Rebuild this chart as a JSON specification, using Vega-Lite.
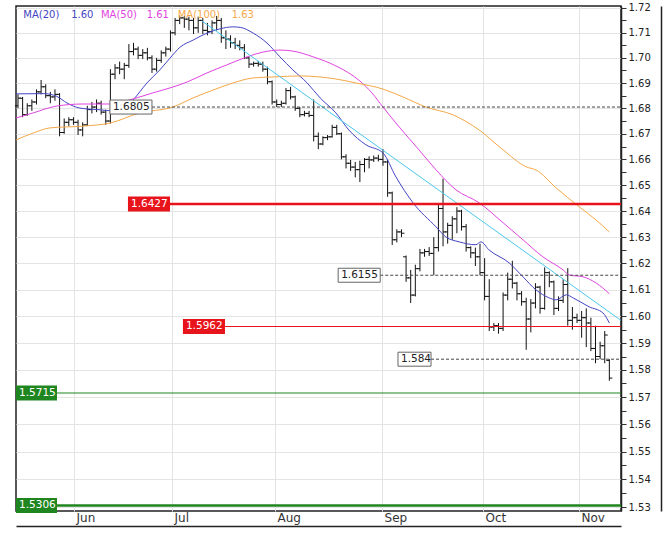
{
"$schema": "https://vega.github.io/schema/vega-lite/v6.json",
"width": 605, "height": 505,
"autosize": {"type": "none"},
"padding": {"left": 16, "top": 6, "right": 51, "bottom": 23},
"background": "white",
"config": {"font": "DejaVu Sans", "view": {"stroke": "#222", "strokeWidth": 1.5}},
"datasets": {
"bars": [
{"i":0,"o":1.681,"h":1.6855,"l":1.68,"c":1.684},
{"i":1,"o":1.684,"h":1.6845,"l":1.6765,"c":1.6775},
{"i":2,"o":1.6775,"h":1.682,"l":1.677,"c":1.681},
{"i":3,"o":1.681,"h":1.6835,"l":1.679,"c":1.6825},
{"i":4,"o":1.6825,"h":1.6875,"l":1.6815,"c":1.6865},
{"i":5,"o":1.6865,"h":1.6912,"l":1.6855,"c":1.6885},
{"i":6,"o":1.6885,"h":1.6895,"l":1.684,"c":1.685},
{"i":7,"o":1.685,"h":1.6865,"l":1.682,"c":1.6845},
{"i":8,"o":1.6845,"h":1.6875,"l":1.683,"c":1.6855},
{"i":9,"o":1.6855,"h":1.686,"l":1.669,"c":1.6705},
{"i":10,"o":1.6705,"h":1.676,"l":1.67,"c":1.6745},
{"i":11,"o":1.6745,"h":1.6765,"l":1.673,"c":1.6755},
{"i":12,"o":1.6755,"h":1.6765,"l":1.6735,"c":1.6745},
{"i":13,"o":1.6745,"h":1.6755,"l":1.6695,"c":1.6715},
{"i":14,"o":1.6715,"h":1.6745,"l":1.669,"c":1.6735},
{"i":15,"o":1.6735,"h":1.681,"l":1.673,"c":1.6795},
{"i":16,"o":1.6795,"h":1.6825,"l":1.678,"c":1.6805},
{"i":17,"o":1.6805,"h":1.6835,"l":1.6785,"c":1.682},
{"i":18,"o":1.682,"h":1.683,"l":1.6775,"c":1.6785},
{"i":19,"o":1.6785,"h":1.6795,"l":1.6735,"c":1.675},
{"i":20,"o":1.675,"h":1.6955,"l":1.674,"c":1.6935},
{"i":21,"o":1.6935,"h":1.6975,"l":1.6915,"c":1.696},
{"i":22,"o":1.696,"h":1.6985,"l":1.6935,"c":1.6955},
{"i":23,"o":1.6955,"h":1.698,"l":1.6915,"c":1.697},
{"i":24,"o":1.697,"h":1.7055,"l":1.696,"c":1.7025},
{"i":25,"o":1.7025,"h":1.706,"l":1.701,"c":1.7035},
{"i":26,"o":1.7035,"h":1.7045,"l":1.6995,"c":1.701},
{"i":27,"o":1.701,"h":1.7035,"l":1.6995,"c":1.702},
{"i":28,"o":1.702,"h":1.704,"l":1.699,"c":1.7},
{"i":29,"o":1.7,"h":1.701,"l":1.694,"c":1.6955},
{"i":30,"o":1.6955,"h":1.7,"l":1.6945,"c":1.699},
{"i":31,"o":1.699,"h":1.703,"l":1.698,"c":1.702},
{"i":32,"o":1.702,"h":1.7045,"l":1.7005,"c":1.7035},
{"i":33,"o":1.7035,"h":1.711,"l":1.7025,"c":1.71},
{"i":34,"o":1.71,"h":1.716,"l":1.709,"c":1.715},
{"i":35,"o":1.715,"h":1.717,"l":1.7135,"c":1.716},
{"i":36,"o":1.716,"h":1.7168,"l":1.712,"c":1.7155},
{"i":37,"o":1.7155,"h":1.7165,"l":1.711,"c":1.715},
{"i":38,"o":1.715,"h":1.716,"l":1.7095,"c":1.712},
{"i":39,"o":1.712,"h":1.7165,"l":1.71,"c":1.715},
{"i":40,"o":1.715,"h":1.716,"l":1.7095,"c":1.711},
{"i":41,"o":1.711,"h":1.714,"l":1.709,"c":1.7105},
{"i":42,"o":1.7105,"h":1.715,"l":1.7095,"c":1.714},
{"i":43,"o":1.714,"h":1.7168,"l":1.711,"c":1.715},
{"i":44,"o":1.715,"h":1.716,"l":1.706,"c":1.708},
{"i":45,"o":1.708,"h":1.711,"l":1.7035,"c":1.7075},
{"i":46,"o":1.7075,"h":1.709,"l":1.704,"c":1.706},
{"i":47,"o":1.706,"h":1.708,"l":1.7035,"c":1.705},
{"i":48,"o":1.705,"h":1.707,"l":1.703,"c":1.704},
{"i":49,"o":1.704,"h":1.7055,"l":1.6995,"c":1.7},
{"i":50,"o":1.7,"h":1.7005,"l":1.696,"c":1.6975},
{"i":51,"o":1.6975,"h":1.6985,"l":1.6965,"c":1.6978},
{"i":52,"o":1.6978,"h":1.6988,"l":1.6965,"c":1.6975},
{"i":53,"o":1.6975,"h":1.6985,"l":1.6945,"c":1.6955},
{"i":54,"o":1.6955,"h":1.6965,"l":1.6895,"c":1.6905},
{"i":55,"o":1.6905,"h":1.691,"l":1.6815,"c":1.6825},
{"i":56,"o":1.6825,"h":1.6835,"l":1.6805,"c":1.6815},
{"i":57,"o":1.6815,"h":1.683,"l":1.6805,"c":1.682},
{"i":58,"o":1.682,"h":1.688,"l":1.6815,"c":1.687},
{"i":59,"o":1.687,"h":1.6885,"l":1.6835,"c":1.6845},
{"i":60,"o":1.6845,"h":1.685,"l":1.679,"c":1.68},
{"i":61,"o":1.68,"h":1.6805,"l":1.6765,"c":1.6775},
{"i":62,"o":1.6775,"h":1.679,"l":1.6768,"c":1.678},
{"i":63,"o":1.678,"h":1.679,"l":1.6765,"c":1.6772},
{"i":64,"o":1.6772,"h":1.6835,"l":1.667,"c":1.669},
{"i":65,"o":1.669,"h":1.6705,"l":1.664,"c":1.666},
{"i":66,"o":1.666,"h":1.669,"l":1.6655,"c":1.6685},
{"i":67,"o":1.6685,"h":1.6695,"l":1.6675,"c":1.6688},
{"i":68,"o":1.6688,"h":1.6735,"l":1.6685,"c":1.6725},
{"i":69,"o":1.6725,"h":1.6735,"l":1.6695,"c":1.67},
{"i":70,"o":1.67,"h":1.6705,"l":1.66,"c":1.661},
{"i":71,"o":1.661,"h":1.662,"l":1.6565,"c":1.6585},
{"i":72,"o":1.6585,"h":1.6598,"l":1.6555,"c":1.657},
{"i":73,"o":1.657,"h":1.659,"l":1.653,"c":1.656},
{"i":74,"o":1.656,"h":1.6595,"l":1.6512,"c":1.658},
{"i":75,"o":1.658,"h":1.6605,"l":1.655,"c":1.66},
{"i":76,"o":1.66,"h":1.6612,"l":1.6565,"c":1.6598},
{"i":77,"o":1.6598,"h":1.6615,"l":1.659,"c":1.6605},
{"i":78,"o":1.6605,"h":1.6618,"l":1.6592,"c":1.66},
{"i":79,"o":1.66,"h":1.664,"l":1.6575,"c":1.659},
{"i":80,"o":1.659,"h":1.6598,"l":1.6455,"c":1.647},
{"i":81,"o":1.647,"h":1.6475,"l":1.627,"c":1.629},
{"i":82,"o":1.629,"h":1.633,"l":1.628,"c":1.632},
{"i":83,"o":1.632,"h":1.633,"l":1.63,"c":1.6315},
{"i":84,"o":1.6225,"h":1.623,"l":1.613,"c":1.6145},
{"i":85,"o":1.6145,"h":1.6175,"l":1.605,"c":1.608},
{"i":86,"o":1.608,"h":1.6195,"l":1.6075,"c":1.618},
{"i":87,"o":1.618,"h":1.6255,"l":1.617,"c":1.624},
{"i":88,"o":1.624,"h":1.6255,"l":1.6225,"c":1.6245},
{"i":89,"o":1.6245,"h":1.6262,"l":1.6228,"c":1.6238},
{"i":90,"o":1.6238,"h":1.63,"l":1.6155,"c":1.626},
{"i":91,"o":1.626,"h":1.643,"l":1.6245,"c":1.641},
{"i":92,"o":1.641,"h":1.6525,"l":1.6265,"c":1.632},
{"i":93,"o":1.632,"h":1.6355,"l":1.6275,"c":1.6345},
{"i":94,"o":1.6345,"h":1.638,"l":1.629,"c":1.637},
{"i":95,"o":1.637,"h":1.6415,"l":1.6315,"c":1.64},
{"i":96,"o":1.64,"h":1.6405,"l":1.6325,"c":1.634},
{"i":97,"o":1.634,"h":1.635,"l":1.6245,"c":1.626},
{"i":98,"o":1.626,"h":1.6265,"l":1.622,"c":1.624},
{"i":99,"o":1.624,"h":1.626,"l":1.619,"c":1.6225},
{"i":100,"o":1.6225,"h":1.6275,"l":1.6155,"c":1.6165},
{"i":101,"o":1.6165,"h":1.622,"l":1.606,"c":1.6075},
{"i":102,"o":1.6075,"h":1.614,"l":1.5945,"c":1.596},
{"i":103,"o":1.596,"h":1.5975,"l":1.5945,"c":1.5965},
{"i":104,"o":1.5965,"h":1.5975,"l":1.5935,"c":1.5955},
{"i":105,"o":1.5955,"h":1.609,"l":1.5945,"c":1.608},
{"i":106,"o":1.608,"h":1.6165,"l":1.606,"c":1.614},
{"i":107,"o":1.614,"h":1.621,"l":1.6105,"c":1.6125},
{"i":108,"o":1.6125,"h":1.613,"l":1.606,"c":1.6085},
{"i":109,"o":1.6085,"h":1.6095,"l":1.604,"c":1.6055},
{"i":110,"o":1.6055,"h":1.607,"l":1.5875,"c":1.599},
{"i":111,"o":1.599,"h":1.6065,"l":1.594,"c":1.605},
{"i":112,"o":1.605,"h":1.6125,"l":1.603,"c":1.611},
{"i":113,"o":1.611,"h":1.6115,"l":1.601,"c":1.603},
{"i":114,"o":1.603,"h":1.6185,"l":1.6025,"c":1.6165},
{"i":115,"o":1.6165,"h":1.617,"l":1.611,"c":1.613},
{"i":116,"o":1.613,"h":1.6135,"l":1.6005,"c":1.603},
{"i":117,"o":1.603,"h":1.6075,"l":1.602,"c":1.606},
{"i":118,"o":1.606,"h":1.614,"l":1.605,"c":1.612},
{"i":119,"o":1.612,"h":1.6182,"l":1.5965,"c":1.5985},
{"i":120,"o":1.5985,"h":1.6035,"l":1.595,"c":1.5995},
{"i":121,"o":1.5995,"h":1.601,"l":1.5975,"c":1.5985},
{"i":122,"o":1.5985,"h":1.602,"l":1.592,"c":1.5995},
{"i":123,"o":1.5995,"h":1.603,"l":1.5885,"c":1.5975},
{"i":124,"o":1.5975,"h":1.5995,"l":1.587,"c":1.588},
{"i":125,"o":1.588,"h":1.5965,"l":1.5825,"c":1.585},
{"i":126,"o":1.585,"h":1.5905,"l":1.584,"c":1.589},
{"i":127,"o":1.589,"h":1.5945,"l":1.5825,"c":1.593},
{"i":128,"o":1.5835,"h":1.584,"l":1.576,"c":1.577}
],
"ma": [
{"s":"MA(20)","i":-0.4,"p":1.6857},{"s":"MA(20)","i":5.6,"p":1.6858},{"s":"MA(20)","i":8.4,"p":1.6847},{"s":"MA(20)","i":10.6,"p":1.6821},{"s":"MA(20)","i":13.4,"p":1.6801},{"s":"MA(20)","i":17.8,"p":1.6794},{"s":"MA(20)","i":20.4,"p":1.679},{"s":"MA(20)","i":23.2,"p":1.6805},{"s":"MA(20)","i":24.9,"p":1.6833},{"s":"MA(20)","i":27.9,"p":1.69},{"s":"MA(20)","i":30.7,"p":1.6952},{"s":"MA(20)","i":32.9,"p":1.6999},{"s":"MA(20)","i":35.1,"p":1.7043},{"s":"MA(20)","i":37.9,"p":1.7071},{"s":"MA(20)","i":40.9,"p":1.7099},{"s":"MA(20)","i":43.7,"p":1.7116},{"s":"MA(20)","i":46.5,"p":1.7124},{"s":"MA(20)","i":48.1,"p":1.7122},{"s":"MA(20)","i":50.9,"p":1.7099},{"s":"MA(20)","i":53.9,"p":1.7059},{"s":"MA(20)","i":56.7,"p":1.7004},{"s":"MA(20)","i":59.5,"p":1.6952},{"s":"MA(20)","i":62.6,"p":1.69},{"s":"MA(20)","i":65.4,"p":1.6841},{"s":"MA(20)","i":68.8,"p":1.6782},{"s":"MA(20)","i":71.6,"p":1.6715},{"s":"MA(20)","i":75.3,"p":1.6657},{"s":"MA(20)","i":79.0,"p":1.6625},{"s":"MA(20)","i":81.8,"p":1.6532},{"s":"MA(20)","i":85.5,"p":1.6432},{"s":"MA(20)","i":90.5,"p":1.6339},{"s":"MA(20)","i":92.6,"p":1.6301},{"s":"MA(20)","i":95.5,"p":1.6282},{"s":"MA(20)","i":99.1,"p":1.6271},{"s":"MA(20)","i":100.2,"p":1.6282},{"s":"MA(20)","i":101.9,"p":1.6252},{"s":"MA(20)","i":106.3,"p":1.6202},{"s":"MA(20)","i":109.3,"p":1.6149},{"s":"MA(20)","i":112.1,"p":1.61},{"s":"MA(20)","i":114.9,"p":1.607},{"s":"MA(20)","i":116.5,"p":1.6062},{"s":"MA(20)","i":118.7,"p":1.6081},{"s":"MA(20)","i":120.1,"p":1.607},{"s":"MA(20)","i":123.6,"p":1.6036},{"s":"MA(20)","i":126.6,"p":1.6013},{"s":"MA(20)","i":128,"p":1.5975},
{"s":"MA(50)","i":-0.4,"p":1.6762},{"s":"MA(50)","i":3.3,"p":1.6782},{"s":"MA(50)","i":8.4,"p":1.6809},{"s":"MA(50)","i":14.1,"p":1.6817},{"s":"MA(50)","i":19.9,"p":1.6817},{"s":"MA(50)","i":24.9,"p":1.6837},{"s":"MA(50)","i":29.2,"p":1.6861},{"s":"MA(50)","i":33.5,"p":1.6884},{"s":"MA(50)","i":36.6,"p":1.6904},{"s":"MA(50)","i":40.9,"p":1.694},{"s":"MA(50)","i":45.2,"p":1.6972},{"s":"MA(50)","i":49.6,"p":1.7004},{"s":"MA(50)","i":53.0,"p":1.7023},{"s":"MA(50)","i":56.7,"p":1.7031},{"s":"MA(50)","i":59.5,"p":1.7027},{"s":"MA(50)","i":63.9,"p":1.7004},{"s":"MA(50)","i":68.8,"p":1.6968},{"s":"MA(50)","i":71.6,"p":1.694},{"s":"MA(50)","i":74.0,"p":1.6908},{"s":"MA(50)","i":76.6,"p":1.6861},{"s":"MA(50)","i":79.0,"p":1.6805},{"s":"MA(50)","i":82.5,"p":1.6727},{"s":"MA(50)","i":86.8,"p":1.6637},{"s":"MA(50)","i":90.5,"p":1.6559},{"s":"MA(50)","i":94.8,"p":1.6482},{"s":"MA(50)","i":99.8,"p":1.6432},{"s":"MA(50)","i":105.0,"p":1.6355},{"s":"MA(50)","i":109.3,"p":1.629},{"s":"MA(50)","i":113.6,"p":1.6225},{"s":"MA(50)","i":118.0,"p":1.6175},{"s":"MA(50)","i":119.3,"p":1.6156},{"s":"MA(50)","i":122.3,"p":1.6149},{"s":"MA(50)","i":125.1,"p":1.6126},{"s":"MA(50)","i":128,"p":1.6085},
{"s":"MA(100)","i":-0.4,"p":1.6676},{"s":"MA(100)","i":3.3,"p":1.6703},{"s":"MA(100)","i":6.9,"p":1.6723},{"s":"MA(100)","i":14.1,"p":1.673},{"s":"MA(100)","i":19.9,"p":1.6742},{"s":"MA(100)","i":26.4,"p":1.6782},{"s":"MA(100)","i":33.5,"p":1.6805},{"s":"MA(100)","i":37.9,"p":1.6841},{"s":"MA(100)","i":42.2,"p":1.6872},{"s":"MA(100)","i":46.5,"p":1.69},{"s":"MA(100)","i":50.9,"p":1.692},{"s":"MA(100)","i":55.2,"p":1.6924},{"s":"MA(100)","i":61.0,"p":1.6928},{"s":"MA(100)","i":68.8,"p":1.6916},{"s":"MA(100)","i":73.2,"p":1.69},{"s":"MA(100)","i":79.0,"p":1.6876},{"s":"MA(100)","i":83.3,"p":1.6845},{"s":"MA(100)","i":88.3,"p":1.6805},{"s":"MA(100)","i":94.2,"p":1.6774},{"s":"MA(100)","i":99.8,"p":1.6715},{"s":"MA(100)","i":105.0,"p":1.6637},{"s":"MA(100)","i":110.0,"p":1.6571},{"s":"MA(100)","i":112.1,"p":1.6559},{"s":"MA(100)","i":116.5,"p":1.6489},{"s":"MA(100)","i":121.5,"p":1.6416},{"s":"MA(100)","i":125.1,"p":1.6366},{"s":"MA(100)","i":128,"p":1.632}
],
"trend": [{"i":39.8,"p":1.7148},{"i":130.5,"p":1.5985}],
"levels": [
{"v":1.6805,"kind":"marker","w":"minor","x0":19.9,"x1":29.0,"t":"1.6805"},
{"v":1.6427,"kind":"red","w":"major","x0":23.8,"x1":32.9,"t":"1.6427"},
{"v":1.6155,"kind":"marker","w":"minor","x0":69.3,"x1":78.4,"t":"1.6155"},
{"v":1.5962,"kind":"red","w":"minor","x0":35.7,"x1":44.8,"t":"1.5962"},
{"v":1.584,"kind":"marker","w":"minor","x0":82.25,"x1":89.4,"t":"1.584"},
{"v":1.5715,"kind":"green","w":"minor","x0":-0.43,"x1":8.44,"t":"1.5715"},
{"v":1.5306,"kind":"green","w":"major","x0":-0.43,"x1":8.44,"t":"1.5306"}
],
"legend": [
{"s":"MA(20)","t":"MA(20)","i":1.15,"p":1.7172},
{"s":"MA(20)","t":"1.60","i":11.5,"p":1.7172},
{"s":"MA(50)","t":"MA(50)","i":17.96,"p":1.7172},
{"s":"MA(50)","t":"1.61","i":27.85,"p":1.7172},
{"s":"MA(100)","t":"MA(100)","i":34.57,"p":1.7172},
{"s":"MA(100)","t":"1.63","i":46.26,"p":1.7172}
]
},
"resolve": {"axis": {"y": "independent"}},
"layer": [
{"data": {"name": "bars"},
 "mark": {"type": "rule", "color": "#111", "strokeWidth": 1},
 "encoding": {
  "x": {"field": "i", "type": "quantitative", "title": null,
   "scale": {"domain": [-0.433, 130.52], "nice": false, "zero": false},
   "axis": {"values": [12.12, 33.33, 55.63, 78.79, 100.65, 121.43],
    "labelExpr": "datum.value < 20 ? 'Jun' : datum.value < 40 ? 'Jul' : datum.value < 60 ? 'Aug' : datum.value < 90 ? 'Sep' : datum.value < 110 ? 'Oct' : 'Nov'",
    "grid": true, "gridColor": "#e4e4e4", "gridWidth": 1,
    "domain": true, "domainColor": "#222", "domainWidth": 1.5, "offset": 15,
    "ticks": false, "tickSize": 0, "labelAlign": "left", "labelBaseline": "top",
    "labelPadding": -14, "labelOffset": 2, "labelFontSize": 12, "labelColor": "#333",
    "labelFlush": false, "labelOverlap": false, "title": null}},
  "y": {"field": "l", "type": "quantitative", "title": null,
   "scale": {"type": "log", "domain": [1.5286, 1.7208], "nice": false, "zero": false},
   "axis": {"orient": "right",
    "values": [1.53,1.535,1.54,1.545,1.55,1.555,1.56,1.565,1.57,1.575,1.58,1.585,1.59,1.595,1.6,1.605,1.61,1.615,1.62,1.625,1.63,1.635,1.64,1.645,1.65,1.655,1.66,1.665,1.67,1.675,1.68,1.685,1.69,1.695,1.7,1.705,1.71,1.715,1.72],
    "labelExpr": "round(datum.value*1000) % 10 == 0 ? format(datum.value, '.2f') : ''",
    "grid": true, "gridColor": "#e4e4e4",
    "gridOpacity": {"condition": {"test": "round(datum.value*1000) % 10 != 0", "value": 0}, "value": 1},
    "domain": true, "domainColor": "#222", "domainWidth": 1.5,
    "ticks": true, "tickSize": 5, "tickColor": "#333",
    "labelPadding": 2, "labelFontSize": 10, "labelColor": "#222",
    "labelOverlap": false, "labelFlush": false, "title": null}},
  "y2": {"field": "h"}
 }},
{"data": {"name": "bars"},
 "mark": {"type": "tick", "orient": "horizontal", "size": 3, "thickness": 1, "color": "#111", "opacity": 1, "xOffset": -1.5},
 "encoding": {"x": {"field": "i", "type": "quantitative", "title": null}, "y": {"field": "o", "type": "quantitative", "axis": null}}},
{"data": {"name": "bars"},
 "mark": {"type": "tick", "orient": "horizontal", "size": 3, "thickness": 1, "color": "#111", "opacity": 1, "xOffset": 1.5},
 "encoding": {"x": {"field": "i", "type": "quantitative", "title": null}, "y": {"field": "c", "type": "quantitative", "axis": null}}},
{"data": {"name": "ma"},
 "mark": {"type": "line", "strokeWidth": 1, "interpolate": "monotone"},
 "encoding": {"x": {"field": "i", "type": "quantitative", "title": null},
  "y": {"field": "p", "type": "quantitative", "axis": null},
  "color": {"field": "s", "type": "nominal", "scale": {"domain": ["MA(20)", "MA(50)", "MA(100)"], "range": ["#4444c4", "#e044e0", "#f4a848"]}, "legend": null}}},
{"data": {"name": "trend"},
 "mark": {"type": "line", "color": "#4cc8ec", "strokeWidth": 1},
 "encoding": {"x": {"field": "i", "type": "quantitative", "title": null},
  "y": {"field": "p", "type": "quantitative", "title": null,
   "axis": {"orient": "right", "offset": 40, "domain": true, "domainColor": "#222", "domainWidth": 1.5, "labels": false, "ticks": false, "grid": false, "title": null}}}},
{"data": {"name": "levels"}, "transform": [{"filter": "datum.kind == 'marker'"}],
 "mark": {"type": "rule", "color": "#444", "strokeWidth": 1, "strokeDash": [3, 2]},
 "encoding": {"x": {"field": "x1", "type": "quantitative", "title": null}, "x2": {"value": "width"}, "y": {"field": "v", "type": "quantitative", "axis": null}}},
{"data": {"name": "levels"}, "transform": [{"filter": "datum.kind == 'red'"}],
 "mark": {"type": "rule", "color": "#e8141c"},
 "encoding": {"x": {"field": "x1", "type": "quantitative", "title": null}, "x2": {"value": "width"}, "y": {"field": "v", "type": "quantitative", "axis": null},
  "strokeWidth": {"field": "w", "type": "nominal", "scale": {"domain": ["major", "minor"], "range": [2.5, 1.2]}, "legend": null}}},
{"data": {"name": "levels"}, "transform": [{"filter": "datum.kind == 'green'"}],
 "mark": {"type": "rule", "color": "#1f861f"},
 "encoding": {"x": {"field": "x1", "type": "quantitative", "title": null}, "x2": {"value": "width"}, "y": {"field": "v", "type": "quantitative", "axis": null},
  "strokeWidth": {"field": "w", "type": "nominal", "legend": null}}},
{"data": {"name": "levels"}, "transform": [{"filter": "datum.kind == 'marker'"}],
 "mark": {"type": "rect", "fill": "white", "stroke": "#666", "strokeWidth": 1, "height": 14},
 "encoding": {"x": {"field": "x0", "type": "quantitative", "title": null}, "x2": {"field": "x1"}, "y": {"field": "v", "type": "quantitative", "axis": null}}},
{"data": {"name": "levels"}, "transform": [{"filter": "datum.kind == 'red'"}],
 "mark": {"type": "rect", "fill": "#e8141c", "height": 15},
 "encoding": {"x": {"field": "x0", "type": "quantitative", "title": null}, "x2": {"field": "x1"}, "y": {"field": "v", "type": "quantitative", "axis": null}}},
{"data": {"name": "levels"}, "transform": [{"filter": "datum.kind == 'green'"}],
 "mark": {"type": "rect", "fill": "#1f861f", "height": 15},
 "encoding": {"x": {"field": "x0", "type": "quantitative", "title": null}, "x2": {"field": "x1"}, "y": {"field": "v", "type": "quantitative", "axis": null}}},
{"data": {"name": "levels"}, "transform": [{"filter": "datum.kind == 'marker'"}],
 "mark": {"type": "text", "align": "left", "baseline": "middle", "dx": 3, "fontSize": 10.5, "color": "#222"},
 "encoding": {"x": {"field": "x0", "type": "quantitative", "title": null}, "y": {"field": "v", "type": "quantitative", "axis": null}, "text": {"field": "t"}}},
{"data": {"name": "levels"}, "transform": [{"filter": "datum.kind != 'marker'"}],
 "mark": {"type": "text", "align": "left", "baseline": "middle", "dx": 3, "fontSize": 10.5, "color": "white"},
 "encoding": {"x": {"field": "x0", "type": "quantitative", "title": null}, "y": {"field": "v", "type": "quantitative", "axis": null}, "text": {"field": "t"}}},
{"data": {"name": "legend"},
 "mark": {"type": "text", "align": "left", "baseline": "middle", "fontSize": 10},
 "encoding": {"x": {"field": "i", "type": "quantitative", "title": null}, "y": {"field": "p", "type": "quantitative", "axis": null}, "text": {"field": "t"},
  "color": {"field": "s", "type": "nominal", "legend": null}}}
]
}
